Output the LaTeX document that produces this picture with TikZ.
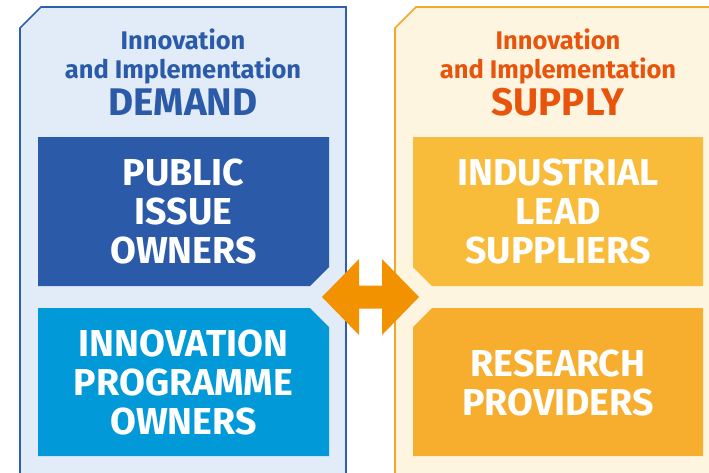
\documentclass[tikz,border=0pt]{standalone}
\usepackage{fontspec}
\setmainfont{Fira Sans}
\definecolor{lborder}{HTML}{2F5FAC}
\definecolor{lfill}{HTML}{E1ECF8}
\definecolor{ltext}{HTML}{2B5BA8}
\definecolor{lbox1}{HTML}{2B5BA8}
\definecolor{lbox2}{HTML}{0199D8}
\definecolor{rborder}{HTML}{F5A828}
\definecolor{rfill}{HTML}{FEF5E0}
\definecolor{rtext}{HTML}{E9540D}
\definecolor{rbox1}{HTML}{F9BC3A}
\definecolor{rbox2}{HTML}{F7AE2E}
\definecolor{arrowc}{HTML}{F39200}
\begin{document}
\begin{tikzpicture}[x=1pt,y=-1pt,
  boxtext/.style={text=white, font=\bfseries\fontsize{37.5}{39}\selectfont, align=center, inner sep=0pt},
  headsmall/.style={font=\bfseries\fontsize{25.5}{29}\selectfont, inner sep=0pt, anchor=base},
  headbig/.style={font=\bfseries\fontsize{38.5}{40}\selectfont, inner sep=0pt, anchor=base}]
\useasboundingbox (0,0) rectangle (709,472);
% panels
\fill[lfill] (20,480) -- (20,28) -- (41,7) -- (346,7) -- (346,480) -- cycle;
\draw[lborder, line width=1.6pt] (20,480) -- (20,28) -- (41,7) -- (346,7) -- (346,480);
\fill[rfill] (395,480) -- (395,28) -- (416,7) -- (715,7) -- (715,480) -- cycle;
\draw[rborder, line width=1.6pt] (395,480) -- (395,28) -- (416,7) -- (715,7);
% headers
\node[headsmall, text=ltext] (lh1) at (183,49) {Innovation};
\node[headsmall, text=ltext] (lh2) at (183,78) {and Implementation};
\node[headbig, text=ltext] (lh3) at (183,115) {DEMAND};
\node[headsmall, text=rtext] (rh1) at (558,49) {Innovation};
\node[headsmall, text=rtext] (rh2) at (558,78) {and Implementation};
\node[headbig, text=rtext] (rh3) at (558,115) {SUPPLY};
% boxes
\fill[lbox1] (38,137) -- (329,137) -- (329,267) -- (310,286) -- (38,286) -- cycle;
\fill[lbox2] (38,308) -- (310,308) -- (329,327) -- (329,456) -- (38,456) -- cycle;
\fill[rbox1] (413,137) -- (703,137) -- (703,286) -- (432,286) -- (413,267) -- cycle;
\fill[rbox2] (432,308) -- (703,308) -- (703,456) -- (413,456) -- (413,327) -- cycle;
\node[boxtext] (pio) at (183.5,211) {PUBLIC\\ISSUE\\OWNERS};
\node[boxtext] (ipo) at (183.5,382.5) {INNOVATION\\PROGRAMME\\OWNERS};
\node[boxtext] (ils) at (558,211) {INDUSTRIAL\\LEAD\\SUPPLIERS};
\node[boxtext] (rp) at (558,382.5) {RESEARCH\\PROVIDERS};
% double arrow
\fill[arrowc] (322,297) -- (359,259) -- (359,285.5) -- (382,285.5) -- (382,259) -- (419,297)
  -- (382,335) -- (382,308.5) -- (359,308.5) -- (359,335) -- cycle;
\end{tikzpicture}
\end{document}
